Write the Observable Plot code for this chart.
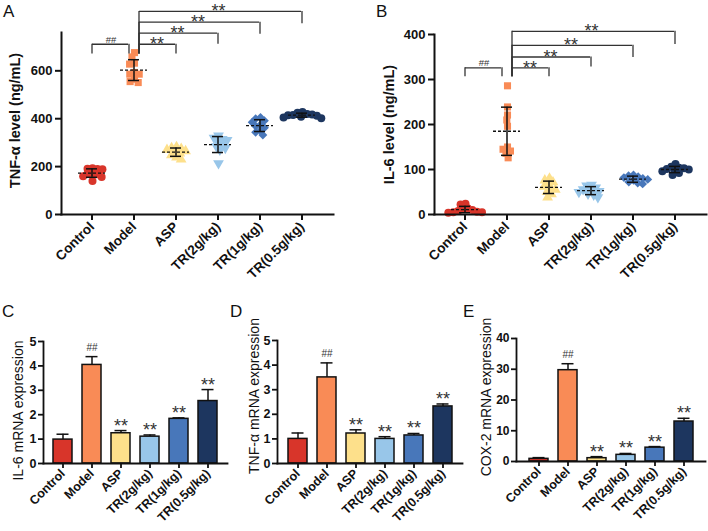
<!DOCTYPE html>
<html><head><meta charset="utf-8">
<script src="https://cdn.jsdelivr.net/npm/d3@7"></script>
<script src="https://cdn.jsdelivr.net/npm/@observablehq/plot@0.6"></script>
<style>
body{margin:0;background:#fff}
#fig{position:relative;width:708px;height:531px;font-family:"Liberation Sans",Arial,sans-serif;overflow:hidden}
.layer{position:absolute}
.layer svg{position:absolute;left:0;top:0}
.lbl{position:absolute;font-size:17px;line-height:1;color:#111}
</style></head><body><div id="fig"></div>
<script>
const groups = ["Control","Model","ASP","TR(2g/kg)","TR(1g/kg)","TR(0.5g/kg)"];
const groupColors = ["#d8352a","#f98b56","#fde08b","#98c6e9","#4877ba","#1d365f"];

// Panel A: TNF-α level (ng/mL), individual animals
const tnfLevelControl = [193, 191, 190, 189, 172, 170, 168, 160, 157, 140];
const tnfLevelModel   = [676, 658, 632, 628, 593, 586, 586, 565, 555, 551];
const tnfLevelASP     = [282, 278, 275, 270, 265, 262, 255, 248, 238, 230];
const tnfLevelTR2     = [329, 320, 315, 311, 305, 294, 285, 278, 270, 214];
const tnfLevelTR1     = [405, 400, 392, 385, 375, 368, 362, 350, 343, 332];
const tnfLevelTR05    = [428, 425, 420, 418, 416, 414, 412, 408, 405, 402];

// Panel B: IL-6 level (ng/mL)
const il6LevelControl = [24, 22, 14, 12, 10, 8, 6, 5, 5, 4];
const il6LevelModel   = [286, 239, 221, 210, 196, 150, 145, 141, 136, 126];
const il6LevelASP     = [80, 76, 72, 68, 62, 58, 55, 50, 45, 38];
const il6LevelTR2     = [66, 64, 60, 56, 54, 52, 50, 46, 44, 38];
const il6LevelTR1     = [88, 86, 84, 82, 80, 78, 76, 72, 70, 68];
const il6LevelTR05    = [112, 106, 104, 103, 101, 100, 98, 96, 92, 88];

// Panels C–E: mRNA expression, mean and SD
const il6MrnaMean  = [0.98, 4.04, 1.24, 1.10, 1.83, 2.56];
const il6MrnaSD    = [0.22, 0.34, 0.11, 0.07, 0.04, 0.47];
const tnfMrnaMean  = [1.00, 3.50, 1.22, 1.00, 1.14, 2.32];
const tnfMrnaSD    = [0.24, 0.59, 0.15, 0.09, 0.08, 0.10];
const coxMrnaMean  = [0.86, 29.7, 1.08, 2.16, 4.50, 13.0];
const coxMrnaSD    = [0.40, 2.10, 0.50, 0.45, 0.35, 1.05];
const barSignif    = ["", "##", "**", "**", "**", "**"];

// Significance brackets (y in data units): top line and leg ends
const bracketsA = [
  {from:"Control", to:"Model", label:"##", y:711, yLeg:670},
  {from:"Model", to:"ASP", label:"**", y:711, yLeg:670},
  {from:"Model", to:"TR(2g/kg)", label:"**", y:757, yLeg:711},
  {from:"Model", to:"TR(1g/kg)", label:"**", y:803, yLeg:753},
  {from:"Model", to:"TR(0.5g/kg)", label:"**", y:848, yLeg:797}
];
const bracketsB = [
  {from:"Control", to:"Model", label:"##", y:326, yLeg:306},
  {from:"Model", to:"ASP", label:"**", y:326, yLeg:306},
  {from:"Model", to:"TR(2g/kg)", label:"**", y:350, yLeg:328},
  {from:"Model", to:"TR(1g/kg)", label:"**", y:376, yLeg:349},
  {from:"Model", to:"TR(0.5g/kg)", label:"**", y:407, yLeg:378}
];

const triangleDown = {
  draw(context, size) {
    const s3 = Math.sqrt(3);
    const y = Math.sqrt(size / (s3 * 3));
    context.moveTo(0, y * 2);
    context.lineTo(-s3 * y, -y);
    context.lineTo(s3 * y, -y);
    context.closePath();
  }
};
const groupSymbols = ["circle", "square", "triangle", triangleDown, "diamond2", "circle"];

const FONT = "'Liberation Sans', Arial, sans-serif";
const fig = document.getElementById("fig");

function layer(left, top, width, height) {
  const d = document.createElement("div");
  d.className = "layer";
  Object.assign(d.style, {left: left + "px", top: top + "px", width: width + "px", height: height + "px"});
  fig.appendChild(d);
  return d;
}
function letter(t, x, y) {
  const d = document.createElement("div");
  d.className = "lbl";
  d.textContent = t;
  Object.assign(d.style, {left: x + "px", top: y + "px"});
  fig.appendChild(d);
}

function scatterPanel(o) {
  const {left, top, width, height, mL, mR, mT, mB, yDomain, yTicks, values, yLabel, labelDx, labelDy, brackets} = o;
  const wrap = layer(left, top, width, height);
  const rows = groups.flatMap((g, i) => values[i].map(v => ({group: g, value: v})));
  const stats = groups.map((g, i) => ({group: g, mean: d3.mean(values[i]), sd: d3.deviation(values[i])}));
  const pi = 0.35, po = 0.34;
  const xs = Plot.scale({x: {type: "band", domain: groups, range: [mL, width - mR], paddingInner: pi, paddingOuter: po}});
  const bw = xs.bandwidth;
  const cx = g => xs.apply(g) + bw / 2;
  const off = 5;
  const common = {width, height, marginLeft: mL, marginRight: mR, marginTop: mT, marginBottom: mB,
    style: {fontFamily: FONT, background: "transparent", overflow: "visible", color: "#111"}};

  const dots = Plot.plot({
    ...common,
    fx: {domain: groups, paddingInner: 0, paddingOuter: po - pi / 2, axis: null, label: null},
    y: {domain: yDomain, axis: null, label: null},
    marks: groups.map((g, i) => Plot.dot(rows.filter(r => r.group === g),
      Plot.dodgeX({anchor: "middle", padding: -3},
        {fx: "group", y: "value", r: 4, fill: groupColors[i], symbol: groupSymbols[i]})))
  });

  const hash = brackets.filter(b => b.label === "##");
  const stars = brackets.filter(b => b.label === "**");
  const legBase = d3.min(stars, b => b.yLeg);
  const lineStyle = {stroke: "#333", strokeWidth: 1.3};

  const base = Plot.plot({
    ...common,
    x: {type: "band", domain: groups, paddingInner: pi, paddingOuter: po, label: null},
    y: {domain: yDomain, label: null},
    marks: [
      Plot.frame({anchor: "left", strokeWidth: 2, stroke: "#111"}),
      Plot.frame({anchor: "bottom", strokeWidth: 2, stroke: "#111"}),
      Plot.axisY({ticks: yTicks, tickSize: 6, strokeWidth: 2, fontWeight: "bold", fontSize: 13, tickPadding: 3, label: null}),
      Plot.axisX({tickSize: 6, strokeWidth: 2, tickRotate: -45, fontWeight: "bold", fontSize: 13.5, tickPadding: 4, label: null}),
      Plot.ruleX(stats, {x: "group", y1: d => d.mean - d.sd, y2: d => d.mean + d.sd, stroke: "#111", strokeWidth: 1.5}),
      Plot.tickY(stats, {x: "group", y: d => d.mean + d.sd, insetLeft: 8, insetRight: 8, stroke: "#111", strokeWidth: 1.5}),
      Plot.tickY(stats, {x: "group", y: d => d.mean - d.sd, insetLeft: 8, insetRight: 8, stroke: "#111", strokeWidth: 1.5}),
      Plot.tickY(stats, {x: "group", y: "mean", stroke: "#111", strokeWidth: 1.3, strokeDasharray: "3,2"}),
      // ## bracket
      Plot.ruleY(hash, {x1: "from", x2: "to", y: "y", insetLeft: bw / 2, insetRight: bw / 2 + off, ...lineStyle}),
      Plot.ruleX(hash, {x: "from", y1: "yLeg", y2: "y", ...lineStyle}),
      Plot.ruleX(hash, {x: "to", y1: "yLeg", y2: "y", dx: -off, ...lineStyle}),
      // ** brackets
      Plot.ruleY(stars, {x1: "from", x2: "to", y: "y", insetLeft: bw / 2 + off, insetRight: bw / 2, ...lineStyle}),
      Plot.ruleX(stars, {x: "from", y1: () => legBase, y2: "y", dx: off, ...lineStyle}),
      Plot.ruleX(stars, {x: "to", y1: "yLeg", y2: "y", ...lineStyle}),
      ...hash.map(b => Plot.text([b], {x: "from", y: "y", text: "label", dx: (cx(b.to) - off - cx(b.from)) / 2,
        lineAnchor: "bottom", dy: -1.5, fontSize: 9.5, fill: "#333"})),
      ...stars.map(b => Plot.text([b], {x: "to", y: "y", text: "label", dx: -(cx(b.to) - cx(b.from) - off) / 2,
        lineAnchor: "bottom", dy: 6, fontSize: 18, fill: "#333"})),
      Plot.text([yLabel], {frameAnchor: "left", textAnchor: "middle", rotate: -90, dx: labelDx, dy: labelDy,
        fontWeight: "bold", fontSize: 14.5, fill: "#111"})
    ]
  });
  wrap.appendChild(dots);
  wrap.appendChild(base);
}

function barPanel(o) {
  const {left, top, width, height, mL, mR, mT, mB, yDomain, yTicks, means, sds, yLabel, labelDx, labelDy, tickFont} = o;
  const wrap = layer(left, top, width, height);
  const stats = groups.map((g, i) => ({group: g, mean: means[i], sd: sds[i], sig: barSignif[i]}));
  const chart = Plot.plot({
    width, height, marginLeft: mL, marginRight: mR, marginTop: mT, marginBottom: mB,
    style: {fontFamily: FONT, background: "transparent", overflow: "visible", color: "#111"},
    x: {type: "band", domain: groups, paddingInner: 0.36, paddingOuter: 0.34, label: null},
    y: {domain: yDomain, label: null},
    color: {domain: groups, range: groupColors},
    marks: [
      Plot.ruleX(stats, {x: "group", y1: "mean", y2: d => d.mean + d.sd, stroke: "#111", strokeWidth: 1.5}),
      Plot.tickY(stats, {x: "group", y: d => d.mean + d.sd, insetLeft: 3.5, insetRight: 3.5, stroke: "#111", strokeWidth: 1.5}),
      Plot.barY(stats, {x: "group", y: "mean", fill: "group", stroke: "#111", strokeWidth: 1.5}),
      Plot.text(stats.filter(d => d.sig === "**"), {x: "group", y: d => d.mean + d.sd, text: "sig", lineAnchor: "bottom", dy: 1, fontSize: 18, fill: "#333"}),
      Plot.text(stats.filter(d => d.sig === "##"), {x: "group", y: d => d.mean + d.sd, text: "sig", lineAnchor: "bottom", dy: -6, fontSize: 10, fill: "#333"}),
      Plot.frame({anchor: "left", strokeWidth: 1.8, stroke: "#111"}),
      Plot.frame({anchor: "bottom", strokeWidth: 1.8, stroke: "#111"}),
      Plot.axisY({ticks: yTicks, tickFormat: d3.format("d"), tickSize: 5, strokeWidth: 1.8, fontWeight: "bold", fontSize: tickFont, tickPadding: 2, label: null}),
      Plot.axisX({tickSize: 5, strokeWidth: 1.8, tickRotate: -45, fontWeight: "bold", fontSize: 12.5, tickPadding: 3, label: null}),
      Plot.text([yLabel], {frameAnchor: "left", textAnchor: "middle", rotate: -90, dx: labelDx, dy: labelDy, fontSize: 14, fill: "#111"})
    ]
  });
  wrap.appendChild(chart);
}

scatterPanel({left: 0, top: 0, width: 354, height: 290, mL: 61, mR: 21, mT: 32, mB: 76,
  yDomain: [0, 760], yTicks: [0, 200, 400, 600],
  values: [tnfLevelControl, tnfLevelModel, tnfLevelASP, tnfLevelTR2, tnfLevelTR1, tnfLevelTR05],
  yLabel: "TNF-α level (ng/mL)", labelDx: -46, labelDy: -3, brackets: bracketsA});

scatterPanel({left: 354, top: 0, width: 354, height: 290, mL: 80, mR: 2, mT: 34, mB: 76,
  yDomain: [0, 400], yTicks: [0, 100, 200, 300, 400],
  values: [il6LevelControl, il6LevelModel, il6LevelASP, il6LevelTR2, il6LevelTR1, il6LevelTR05],
  yLabel: "IL-6 level (ng/mL)", labelDx: -45, labelDy: 0, brackets: bracketsB});

barPanel({left: 0, top: 290, width: 236, height: 241, mL: 43, mR: 9, mT: 51, mB: 68,
  yDomain: [0, 5], yTicks: [0, 1, 2, 3, 4, 5], means: il6MrnaMean, sds: il6MrnaSD,
  yLabel: "IL-6 mRNA expression", labelDx: -25, labelDy: 8, tickFont: 12.5});

barPanel({left: 236, top: 290, width: 232, height: 241, mL: 41, mR: 6, mT: 50, mB: 68,
  yDomain: [0, 5], yTicks: [0, 1, 2, 3, 4, 5], means: tnfMrnaMean, sds: tnfMrnaSD,
  yLabel: "TNF-α mRNA expression", labelDx: -23, labelDy: -6, tickFont: 12.5});

barPanel({left: 468, top: 290, width: 240, height: 241, mL: 48, mR: 3, mT: 48, mB: 70,
  yDomain: [0, 40], yTicks: [0, 10, 20, 30, 40], means: coxMrnaMean, sds: coxMrnaSD,
  yLabel: "COX-2 mRNA expression", labelDx: -30, labelDy: -3, tickFont: 12});

letter("A", 3, 3);
letter("B", 376, 3);
letter("C", 2, 303);
letter("D", 230, 303);
letter("E", 463, 303);
</script>
</body></html>
